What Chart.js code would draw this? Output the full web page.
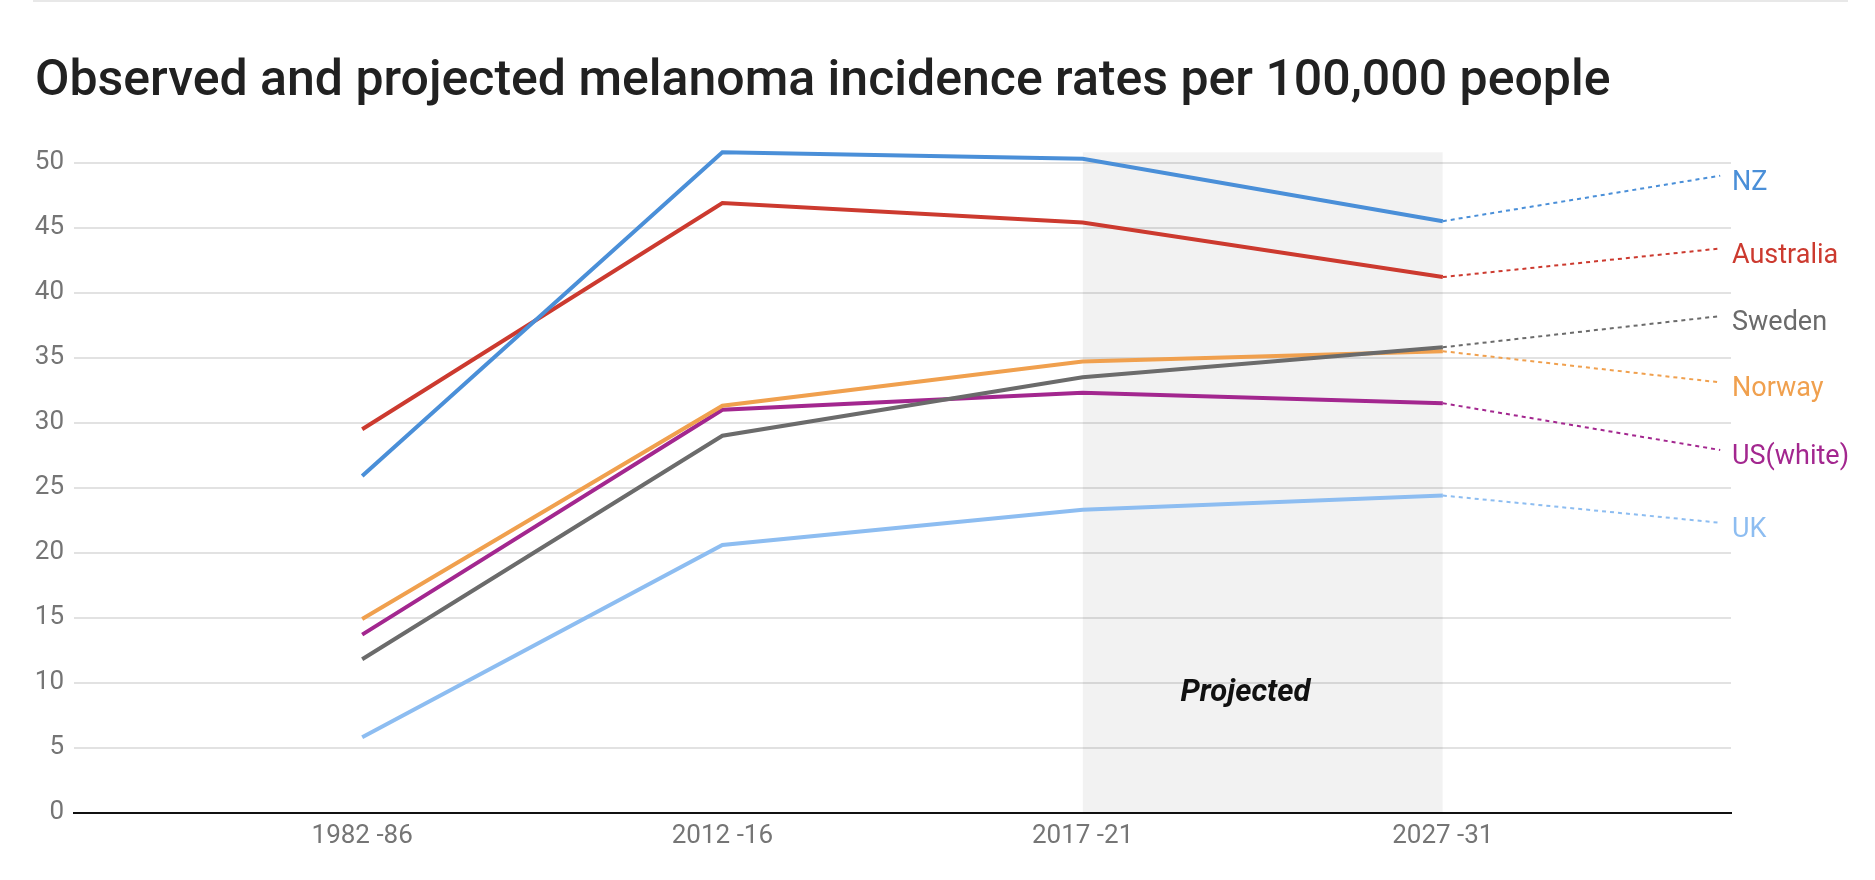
<!DOCTYPE html>
<html>
<head>
<meta charset="utf-8">
<title>Melanoma incidence rates</title>
<script src="https://cdn.jsdelivr.net/npm/chart.js@4.4.1/dist/chart.umd.min.js"></script>
<style>
  html, body { margin: 0; padding: 0; background: #fff; }
  #wrap { position: relative; width: 1875px; height: 880px; }
  #wrap canvas { position: absolute; left: 0; top: 0; }
  #topRule { position: absolute; left: 33px; top: 0; width: 1815px; height: 2px; background: #e8e8e8; }
</style>
</head>
<body>
<div id="wrap">
  <canvas id="melanomaChart" width="1875" height="880"></canvas>
  <div id="topRule"></div>
</div>
<script>
// Observed and projected melanoma incidence (per 100,000)

const categories = ['1982 -86', '2012 -16', '2017 -21', '2027 -31'];
const countries = ['NZ', 'Australia', 'Sweden', 'Norway', 'US(white)', 'UK'];

const nzRates        = [25.9, 50.8, 50.3, 45.5];
const australiaRates = [29.5, 46.9, 45.4, 41.2];
const swedenRates    = [11.8, 29.0, 33.5, 35.8];
const norwayRates    = [14.9, 31.3, 34.7, 35.5];
const usWhiteRates   = [13.7, 31.0, 32.3, 31.5];
const ukRates        = [5.8, 20.6, 23.3, 24.4];

// value at which the dotted line to each country label ends
const labelLineEnds = [49.0, 43.4, 38.2, 33.1, 27.9, 22.3];

const yTickValues = [0, 5, 10, 15, 20, 25, 30, 35, 40, 45, 50];

// grey "Projected" box height
const projectedTop = [50.8, 50.8];

const lineColors = ['#4a8fd8', '#cc3a2f', '#6b6b6b', '#f0a04e', '#a3278f', '#8dbdf1'];

const allRates = [nzRates, australiaRates, swedenRates, norwayRates, usWhiteRates, ukRates];
const LEAD_END_X = 3.77;
const projectedLabelAt = { x: 2.452, y: 8.58 };

const datasets = [];

countries.forEach((name, i) => {
    datasets.push({
        label: name,
        data: allRates[i].map((v, j) => ({ x: j, y: v })),
        borderColor: lineColors[i],
        borderWidth: 4,
        pointRadius: 0,
        tension: 0,
        fill: false,
        order: 1
    });
});

countries.forEach((name, i) => {
    datasets.push({
        label: name + ' trend',
        leadFor: name,
        data: [{ x: 3, y: allRates[i][3] }, { x: LEAD_END_X, y: labelLineEnds[i] }],
        borderColor: lineColors[i],
        borderWidth: 2,
        borderDash: [4, 4],
        pointRadius: 0,
        fill: false,
        order: 2
    });
});

datasets.push({
    label: 'Projected',
    data: projectedTop.map((v, j) => ({ x: 2 + j, y: v })),
    fill: 'origin',
    backgroundColor: 'rgba(0,0,0,0.05)',
    borderWidth: 0,
    pointRadius: 0,
    order: 10
});

// country names at the end of the dotted lines + "Projected" note
const endLabels = {
    id: 'endLabels',
    afterDatasetsDraw(chart) {
        const ctx = chart.ctx;
        ctx.save();
        ctx.font = '27px Roboto';
        ctx.textAlign = 'left';
        ctx.textBaseline = 'alphabetic';
        chart.data.datasets.forEach((ds, i) => {
            if (!ds.leadFor) return;
            const pts = chart.getDatasetMeta(i).data;
            const last = pts[pts.length - 1];
            ctx.fillStyle = ds.borderColor;
            ctx.fillText(ds.leadFor, chart.chartArea.right + 1, last.y + 14);
        });

        const px = chart.scales.x.getPixelForValue(projectedLabelAt.x);
        const py = chart.scales.y.getPixelForValue(projectedLabelAt.y);
        ctx.font = 'italic bold 31px Roboto';
        ctx.fillStyle = '#111';
        ctx.textAlign = 'center';
        ctx.fillText('Projected', px, py);
        ctx.restore();
    }
};

new Chart(document.getElementById('melanomaChart'), {
    type: 'line',
    data: { datasets: datasets },
    plugins: [endLabels],
    options: {
        responsive: false,
        animation: false,
        layout: { padding: { left: 35, right: 144, top: 0, bottom: 0 } },
        plugins: {
            legend: { display: false },
            tooltip: { enabled: false },
            title: {
                display: true,
                text: 'Observed and projected melanoma incidence rates per 100,000 people',
                align: 'start',
                color: '#212121',
                font: { family: 'Roboto', size: 50, weight: '500', lineHeight: 1.2 },
                padding: { top: 52, bottom: 24.7 }
            }
        },
        scales: {
            x: {
                type: 'linear',
                min: -0.8,
                max: 3.8,
                afterBuildTicks: s => { s.ticks = categories.map((c, i) => ({ value: i })); },
                ticks: {
                    callback: v => categories[v],
                    color: '#757575',
                    font: { family: 'Roboto', size: 26 },
                    padding: 8,
                    autoSkip: false,
                    maxRotation: 0
                },
                grid: { display: false, drawTicks: false },
                border: { display: true, color: '#111', width: 2 },
                afterFit: s => { s.height = 67.3; }
            },
            y: {
                min: 0,
                max: 52,
                afterBuildTicks: s => { s.ticks = yTickValues.map(v => ({ value: v })); },
                ticks: {
                    color: '#757575',
                    font: { family: 'Roboto', size: 26 },
                    padding: 10
                },
                grid: { color: '#e2e2e2', lineWidth: 2, drawTicks: false },
                border: { display: false },
                afterFit: s => { s.width = 39; }
            }
        }
    }
});
</script>
</body>
</html>
